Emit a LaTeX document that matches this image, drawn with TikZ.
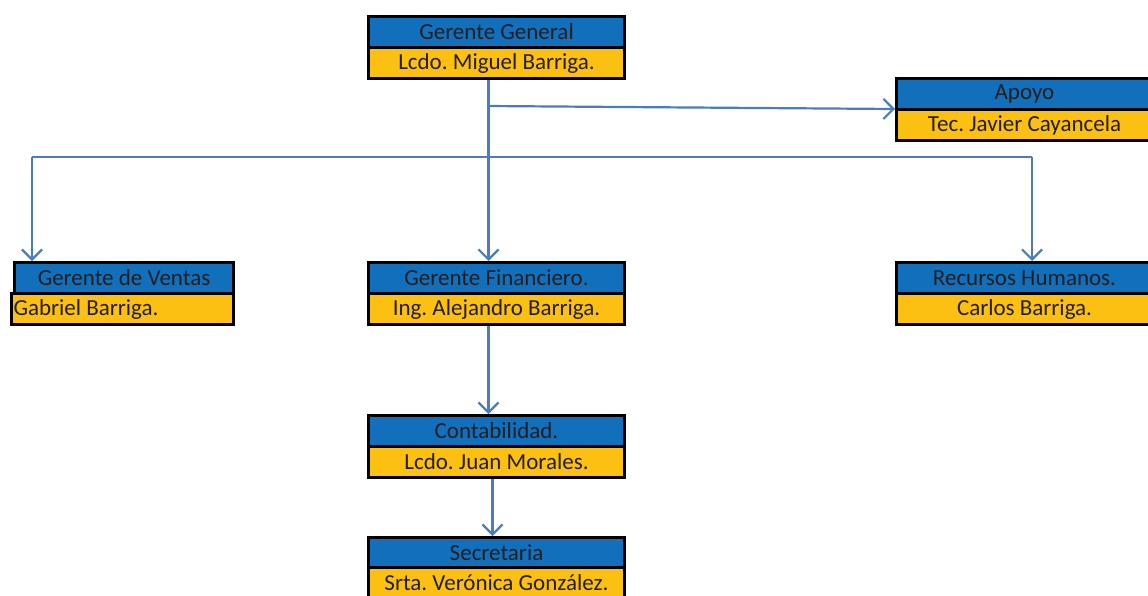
\documentclass[tikz,border=0pt]{standalone}
\usepackage{fontspec}
\setmainfont{Carlito}
\usetikzlibrary{arrows.meta,calc}
\definecolor{obblue}{RGB}{17,111,187}
\definecolor{obyellow}{RGB}{252,192,18}
\definecolor{obtext}{RGB}{35,31,32}
\definecolor{conncol}{RGB}{74,126,187}
\frenchspacing
\begin{document}
\begin{tikzpicture}[x=1pt,y=-1pt,
  cell/.style={draw=black, line width=3pt, inner sep=0pt, anchor=north west,
    minimum width=256pt, minimum height=31pt, text=obtext,
    font=\fontsize{23}{25}\selectfont},
  tcell/.style={cell, fill=obblue},
  pcell/.style={cell, fill=obyellow},
  conn/.style={draw=conncol, line width=2.2pt,
    -{Straight Barb[length=10pt,width=20pt,line width=2.2pt]}},
  plain/.style={draw=conncol, line width=2.2pt}]
\useasboundingbox (0,0) rectangle (1148,595);
% boxes
\node[tcell] (gg) at (367,15) {Gerente General};
\node[pcell] (ggp) at (367,46) {Lcdo. Miguel Barriga.};
\node[tcell] (ap) at (895,77) {Apoyo};
\node[pcell] (app) at (895,108) {Tec. Javier Cayancela};
\node[tcell, minimum width=219pt] (gv) at (13,261) {Gerente de Ventas};
\node[pcell, minimum width=222pt] (gvp) at (10,292) {\makebox[218pt][l]{Gabriel Barriga.}};
\node[tcell] (gf) at (367,261) {Gerente Financiero.};
\node[pcell] (gfp) at (367,292) {Ing. Alejandro Barriga.};
\node[tcell] (rh) at (895,261) {Recursos Humanos.};
\node[pcell] (rhp) at (895,292) {Carlos Barriga.};
\node[tcell] (co) at (367,414) {Contabilidad.};
\node[pcell] (cop) at (367,445) {Lcdo. Juan Morales.};
\node[tcell] (se) at (367,536) {Secretaria};
\node[pcell] (sep) at (367,566) {Srta. Verónica González.};
% junctions
\coordinate (jap) at (487,106);
\coordinate (jl) at (32,157);
\coordinate (jr) at (1032,157);
% connectors
\draw[conn] ([xshift=-8pt]ggp.south) -- ([xshift=-8pt]gf.north);
\draw[conn] (jap) -- ([yshift=2pt]ap.south west);
\draw[plain] (jr) -- (jl);
\draw[conn] (jl) -- (jl |- gv.north);
\draw[conn] (jr) -- (jr |- rh.north);
\draw[conn] ([xshift=-8pt]gfp.south) -- ([xshift=-8pt]co.north);
\draw[conn] ([xshift=-4pt]cop.south) -- ([xshift=-4pt]se.north);
\end{tikzpicture}
\end{document}
